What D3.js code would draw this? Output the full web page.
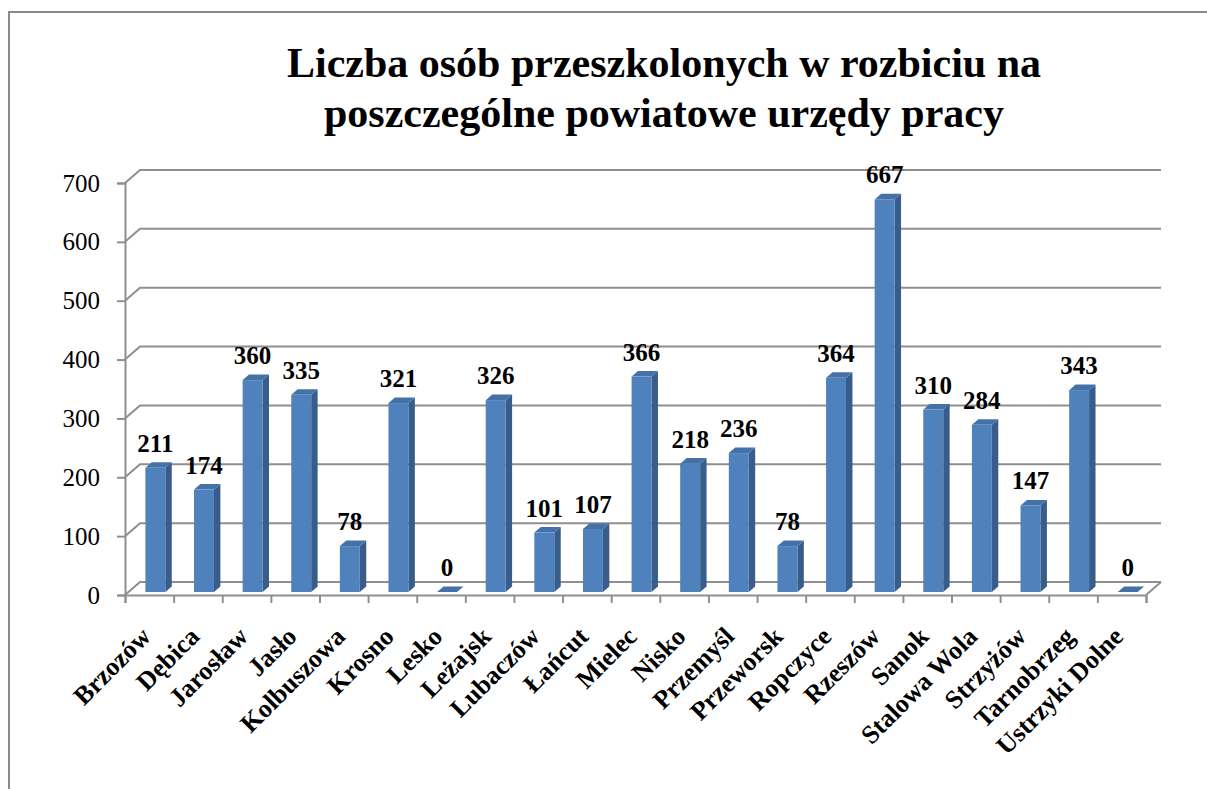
<!DOCTYPE html>
<html>
<head>
<meta charset="utf-8">
<script src="https://cdn.jsdelivr.net/npm/d3@7"></script>
<style>
  body { margin: 0; background: #fff; }
  text { font-family: "Liberation Serif", "Times New Roman", serif; }
</style>
</head>
<body>
<svg id="chart"></svg>
<script>
var categories = [
  'Brzozów', 'Dębica', 'Jarosław', 'Jasło', 'Kolbuszowa', 'Krosno', 'Lesko',
  'Leżajsk', 'Lubaczów', 'Łańcut', 'Mielec', 'Nisko', 'Przemyśl', 'Przeworsk',
  'Ropczyce', 'Rzeszów', 'Sanok', 'Stalowa Wola', 'Strzyżów', 'Tarnobrzeg', 'Ustrzyki Dolne'
];
var values = [211, 174, 360, 335, 78, 321, 0, 326, 101, 107, 366, 218, 236, 78, 364, 667, 310, 284, 147, 343, 0];
var yTicks = [0, 100, 200, 300, 400, 500, 600, 700];
var titleLines = ['Liczba osób przeszkolonych w rozbiciu na', 'poszczególne powiatowe urzędy pracy'];

var width = 1207,
  height = 789;

// depth of the 3d box (back wall offset)
var depthX = 15, depthY = -13;
// bars sit between these fractions of the depth
var barF0 = 0.23, barF1 = 0.66;

var svg = d3.select('#chart')
  .attr('width', width)
  .attr('height', height);

// outer frame (runs off right and bottom edge)
svg.append('rect')
  .attr('x', 9)
  .attr('y', 12)
  .attr('width', 1220)
  .attr('height', 800)
  .attr('fill', 'none')
  .attr('stroke', '#8a8a8a')
  .attr('stroke-width', 2);

svg.selectAll('.title')
  .data(titleLines)
  .enter().append('text')
  .attr('class', 'title')
  .attr('x', 664)
  .attr('y', function(d, i) { return 77 + i * 50; })
  .attr('text-anchor', 'middle')
  .attr('font-weight', 'bold')
  .attr('font-size', 42)
  .text(function(d) { return d; });

var x = d3.scaleBand()
  .domain(categories)
  .range([125, 1146]);

var xEdges = d3.scaleLinear()
  .domain([0, categories.length])
  .range([125, 1146]);

var y = d3.scaleLinear()
  .domain([0, 700])
  .range([595, 183]);

var gridColor = '#8f8f8f';
var g = svg.append('g');

// back wall gridlines with the little diagonal on the left wall
g.selectAll('.grid')
  .data(yTicks)
  .enter().append('path')
  .attr('class', 'grid')
  .attr('fill', 'none')
  .attr('stroke', gridColor)
  .attr('stroke-width', 2)
  .attr('d', function(d) {
    var yy = y(d);
    return 'M' + x.range()[0] + ',' + yy +
      'L' + (x.range()[0] + depthX) + ',' + (yy + depthY) +
      'L' + (x.range()[1] + depthX) + ',' + (yy + depthY);
  });

// floor right edge
g.append('path')
  .attr('fill', 'none')
  .attr('stroke', gridColor)
  .attr('stroke-width', 2)
  .attr('d', 'M' + x.range()[1] + ',' + y(0) + 'L' + (x.range()[1] + depthX) + ',' + (y(0) + depthY));

// y axis
g.append('g')
  .attr('transform', 'translate(' + x.range()[0] + ',0)')
  .call(d3.axisLeft(y).tickValues(yTicks).tickSize(8).tickPadding(17))
  .call(function(a) {
    a.attr('font-family', null);
    a.selectAll('line, path').attr('stroke', gridColor).attr('stroke-width', 2);
    a.selectAll('text')
      .attr('font-size', 25)
      .attr('fill', '#000');
  });

// x axis (ticks on category boundaries)
g.append('g')
  .attr('transform', 'translate(0,' + y(0) + ')')
  .call(d3.axisBottom(xEdges).ticks(categories.length).tickSize(8).tickFormat(''))
  .call(function(a) {
    a.selectAll('line, path').attr('stroke', gridColor).attr('stroke-width', 2);
  });

// bars
var bw = x.bandwidth() * 0.41;
var f0x = depthX * barF0, f0y = depthY * barF0;
var dx = depthX * (barF1 - barF0), dy = depthY * (barF1 - barF0);

var bars = g.selectAll('.bar')
  .data(values)
  .enter().append('g')
  .attr('class', 'bar');

function x0(d, i) { return x(categories[i]) + x.bandwidth() * 0.41 + f0x - 3; }
function yb() { return y(0) + f0y; }
function yt(d) { return y(d) + f0y; }

bars.append('path')
  .attr('fill', '#385d8a')
  .attr('d', function(d, i) {
    var a = x0(d, i) + bw;
    return 'M' + a + ',' + yb() + 'L' + (a + dx) + ',' + (yb() + dy) +
      'L' + (a + dx) + ',' + (yt(d) + dy) + 'L' + a + ',' + yt(d) + 'Z';
  });

bars.append('path')
  .attr('fill', '#4472a8')
  .attr('d', function(d, i) {
    var a = x0(d, i);
    return 'M' + a + ',' + yt(d) + 'L' + (a + bw) + ',' + yt(d) +
      'L' + (a + bw + dx) + ',' + (yt(d) + dy) + 'L' + (a + dx) + ',' + (yt(d) + dy) + 'Z';
  });

bars.append('rect')
  .attr('fill', '#4f81bd')
  .attr('x', x0)
  .attr('y', yt)
  .attr('width', bw)
  .attr('height', function(d) { return yb() - yt(d); });

// value labels
g.selectAll('.value')
  .data(values)
  .enter().append('text')
  .attr('class', 'value')
  .attr('x', function(d, i) { return x0(d, i) + bw / 2; })
  .attr('y', function(d) { return yt(d) - 16; })
  .attr('text-anchor', 'middle')
  .attr('font-weight', 'bold')
  .attr('font-size', 25)
  .text(function(d) { return d; });

// category labels, rotated
g.selectAll('.cat')
  .data(categories)
  .enter().append('text')
  .attr('class', 'cat')
  .attr('text-anchor', 'end')
  .attr('font-weight', 'bold')
  .attr('font-size', 26)
  .attr('transform', function(d) {
    return 'translate(' + (x(d) + x.bandwidth() / 2 + 3) + ',' + 638 + ')rotate(-45)';
  })
  .text(function(d) { return d; });
</script>
</body>
</html>
